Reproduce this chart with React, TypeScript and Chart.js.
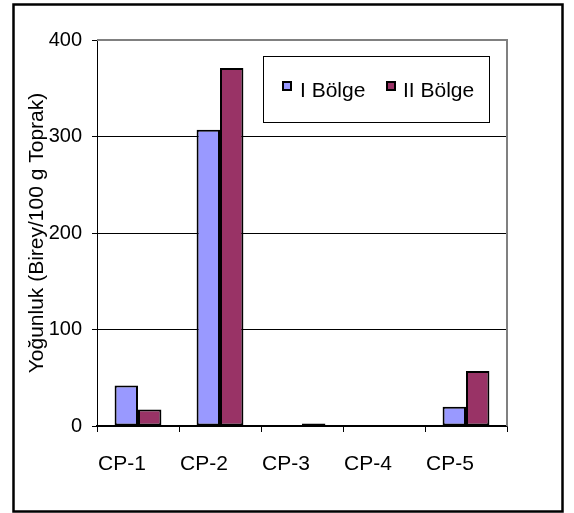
import React, { useEffect, useRef } from "react";
import { Chart, registerables } from "chart.js";

Chart.register(...registerables);

const categories = ["CP-1", "CP-2", "CP-3", "CP-4", "CP-5"];
const seriesLabels = ["I Bölge", "II Bölge"];
const bolge1 = [42, 307, 1, 0, 20];
const bolge2 = [17, 371, 2.5, 0, 57];
const yTicks = [0, 100, 200, 300, 400];
const yTitle = "Yoğunluk (Birey/100 g Toprak)";

const FONT = "'Liberation Sans', Arial, sans-serif";
const colors = ["#9999FF", "#993366"];

// Frame around the whole figure, gray plot border on top/right, and boxed legend
const framePlugin = {
  id: "frame",
  beforeDraw(chart: any) {
    const ctx = chart.ctx;
    ctx.save();
    ctx.fillStyle = "#ffffff";
    ctx.fillRect(0, 0, chart.width, chart.height);
    ctx.strokeStyle = "#000000";
    ctx.lineWidth = 2.5;
    ctx.strokeRect(13.5, 4.5, 549, 507);
    ctx.restore();
  },
  afterDraw(chart: any) {
    const ctx = chart.ctx;
    const a = chart.chartArea;
    ctx.save();
    ctx.strokeStyle = "#808080";
    ctx.lineWidth = 2;
    ctx.beginPath();
    ctx.moveTo(a.left, a.top);
    ctx.lineTo(a.right, a.top);
    ctx.lineTo(a.right, a.bottom);
    ctx.stroke();

    // legend box
    const bx = 263.5, by = 56.5, bw = 226, bh = 66;
    ctx.fillStyle = "#ffffff";
    ctx.fillRect(bx, by, bw, bh);
    ctx.strokeStyle = "#000000";
    ctx.lineWidth = 1;
    ctx.strokeRect(bx, by, bw, bh);

    ctx.font = `21px ${FONT}`;
    ctx.textBaseline = "alphabetic";
    ctx.textAlign = "left";
    const markerX = [283, 387];
    const textX = [300, 403];
    chart.data.datasets.forEach((ds: any, i: number) => {
      ctx.fillStyle = ds.backgroundColor;
      ctx.fillRect(markerX[i], 82, 8, 8);
      ctx.strokeStyle = "#000000";
      ctx.lineWidth = 2;
      ctx.strokeRect(markerX[i], 82, 8, 8);
      ctx.fillStyle = "#000000";
      ctx.fillText(ds.label, textX[i], 97);
    });
    ctx.restore();
  },
};

export default function App() {
  const ref = useRef<HTMLCanvasElement | null>(null);

  useEffect(() => {
    if (!ref.current) return;
    const chart = new Chart(ref.current, {
      type: "bar",
      data: {
        labels: categories,
        datasets: [
          {
            label: seriesLabels[0],
            data: bolge1,
            backgroundColor: colors[0],
            borderColor: "#000000",
            borderWidth: 2,
            borderSkipped: false,
          },
          {
            label: seriesLabels[1],
            data: bolge2,
            backgroundColor: colors[1],
            borderColor: "#000000",
            borderWidth: 2,
            borderSkipped: false,
          },
        ],
      },
      options: {
        responsive: false,
        animation: false,
        devicePixelRatio: 1,
        layout: { padding: { top: 40, right: 67, bottom: 27, left: 0 } },
        datasets: { bar: { categoryPercentage: 0.571, barPercentage: 1 } },
        plugins: {
          legend: { display: false },
          tooltip: { enabled: false },
        },
        scales: {
          x: {
            offset: true,
            grid: {
              display: true,
              offset: true,
              drawOnChartArea: false,
              drawTicks: true,
              tickLength: 6,
              tickColor: "#000000",
              color: "#000000",
            },
            border: { display: true, color: "#000000", width: 1.5 },
            ticks: {
              color: "#000000",
              padding: 20,
              labelOffset: -16,
              font: { family: FONT, size: 21 },
            },
            afterFit(scale: any) {
              scale.height = 60;
            },
          },
          y: {
            min: 0,
            max: 400,
            afterBuildTicks(scale: any) {
              scale.ticks = yTicks.map((v) => ({ value: v }));
            },
            grid: {
              color: (c: any) => (c.tick && c.tick.value === 400 ? "rgba(0,0,0,0)" : "#000000"),
              lineWidth: 1,
              drawTicks: true,
              tickLength: 5,
              tickColor: "#000000",
            },
            border: { display: true, color: "#000000", width: 1 },
            ticks: {
              color: "#000000",
              padding: 10,
              font: { family: FONT, size: 20 },
            },
            title: {
              display: true,
              text: yTitle,
              color: "#000000",
              font: { family: FONT, size: 21 },
              padding: { top: 25, bottom: 0 },
            },
            afterFit(scale: any) {
              scale.width = 97;
            },
          },
        },
      },
      plugins: [framePlugin],
    });
    return () => chart.destroy();
  }, []);

  return (
    <div style={{ position: "absolute", left: 0, top: 0, width: 574, height: 513 }}>
      <canvas ref={ref} width={574} height={513} />
    </div>
  );
}
